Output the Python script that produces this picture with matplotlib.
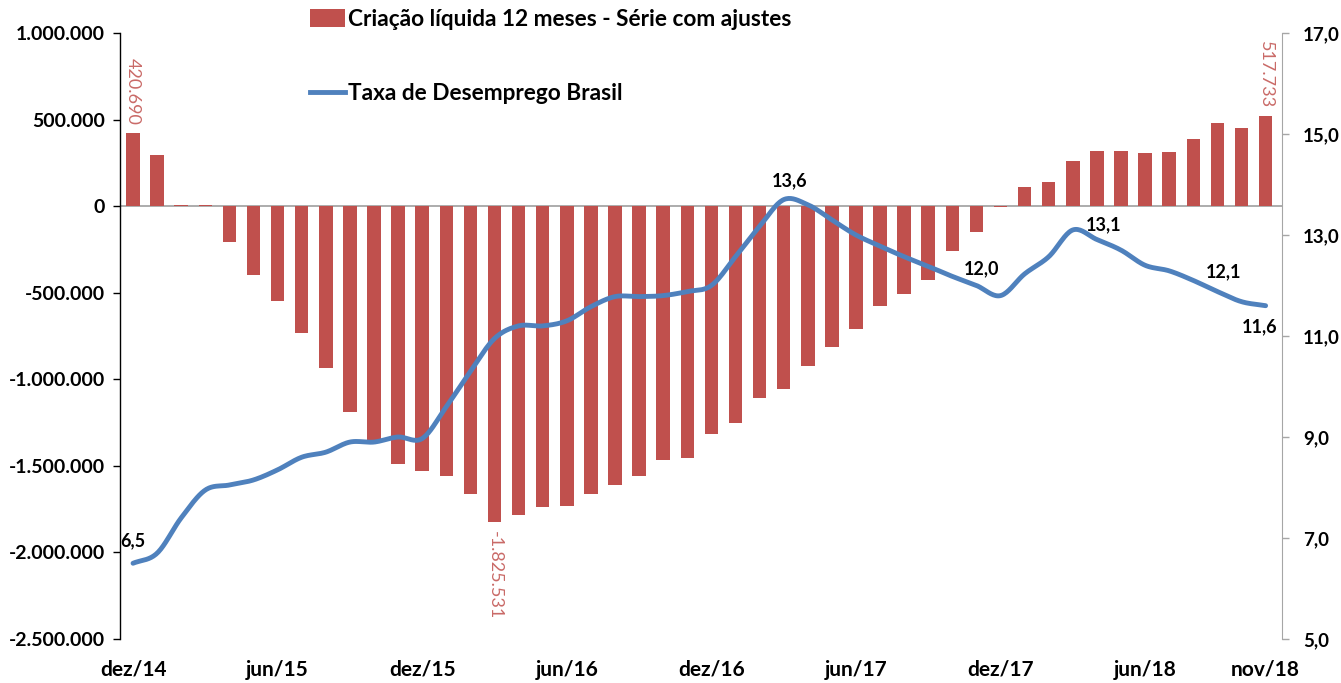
import numpy as np
import matplotlib
matplotlib.use("Agg")
import matplotlib.pyplot as plt
from matplotlib.patches import Patch
from matplotlib.lines import Line2D

plt.rcParams['font.family'] = ['Lato', 'DejaVu Sans']

# ---------------- data ----------------
months = ["dez/14", "jan/15", "fev/15", "mar/15", "abr/15", "mai/15", "jun/15", "jul/15",
          "ago/15", "set/15", "out/15", "nov/15", "dez/15", "jan/16", "fev/16", "mar/16",
          "abr/16", "mai/16", "jun/16", "jul/16", "ago/16", "set/16", "out/16", "nov/16",
          "dez/16", "jan/17", "fev/17", "mar/17", "abr/17", "mai/17", "jun/17", "jul/17",
          "ago/17", "set/17", "out/17", "nov/17", "dez/17", "jan/18", "fev/18", "mar/18",
          "abr/18", "mai/18", "jun/18", "jul/18", "ago/18", "set/18", "out/18", "nov/18"]

criacao_liquida = [420690, 295000, 5000, 5000, -205000, -400000, -545000, -730000,
                   -932000, -1187000, -1350000, -1492000, -1527000, -1560000, -1665000, -1825531,
                   -1782000, -1737000, -1732000, -1665000, -1612000, -1560000, -1467000, -1452000,
                   -1315000, -1255000, -1107000, -1055000, -922000, -812000, -712000, -577000,
                   -505000, -425000, -257000, -147000, -7000, 112000, 137000, 262000,
                   317000, 317000, 305000, 312000, 385000, 480000, 450000, 517733]

taxa_desemprego = [6.5, 6.7, 7.4, 7.95, 8.05, 8.15, 8.35, 8.6,
                   8.7, 8.9, 8.9, 9.0, 8.97, 9.6, 10.3, 10.95,
                   11.2, 11.2, 11.3, 11.58, 11.78, 11.78, 11.8, 11.88,
                   12.0, 12.57, 13.17, 13.7, 13.6, 13.3, 13.0, 12.78,
                   12.57, 12.38, 12.18, 12.0, 11.8, 12.23, 12.57, 13.1,
                   12.91, 12.7, 12.4, 12.29, 12.1, 11.88, 11.68, 11.6]

xtick_labels = ["dez/14", "jun/15", "dez/15", "jun/16", "dez/16", "jun/17", "dez/17", "jun/18", "nov/18"]
left_ticks = [1000000, 500000, 0, -500000, -1000000, -1500000, -2000000, -2500000]
right_ticks = [17.0, 15.0, 13.0, 11.0, 9.0, 7.0, 5.0]

bar_label_idx = [0, 15, 47]
line_label_idx = [0, 28, 35, 39, 44, 47]
line_label_offsets = [(0, 16), (-13, 17), (4, 12), (22, 4), (22, 6), (-4, -15)]  # points

label_series_bar = "Criação líquida 12 meses - Série com ajustes"
label_series_line = "Taxa de Desemprego Brasil"

BAR_C = "#C0504D"
LINE_C = "#4F81BD"

def fmt_thousands(v):
    s = f"{abs(int(round(v))):,}".replace(",", ".")
    return ("-" if v < 0 else "") + s

def fmt_dec(v):
    return f"{v:.1f}".replace(".", ",")

def catmull_rom(x, y, n=20):
    x = np.asarray(x, float); y = np.asarray(y, float)
    px = np.concatenate([[2*x[0]-x[1]], x, [2*x[-1]-x[-2]]])
    py = np.concatenate([[2*y[0]-y[1]], y, [2*y[-1]-y[-2]]])
    xs, ys = [], []
    t = np.linspace(0, 1, n, endpoint=False)
    for i in range(1, len(px)-2):
        for arr, out in ((px, xs), (py, ys)):
            p0, p1, p2, p3 = arr[i-1], arr[i], arr[i+1], arr[i+2]
            out.append(0.5*((2*p1) + (-p0+p2)*t + (2*p0-5*p1+4*p2-p3)*t**2 + (-p0+3*p1-3*p2+p3)*t**3))
    xs = np.concatenate(xs + [[x[-1]]]); ys = np.concatenate(ys + [[y[-1]]])
    return xs, ys

# ---------------- figure ----------------
fig = plt.figure(figsize=(13.41, 6.83), dpi=100)
ax = fig.add_axes([0.0895, 0.0644, 0.8665, 0.8873])
ax2 = ax.twinx()

x = np.arange(len(months))
ax.bar(x, criacao_liquida, width=0.56, color=BAR_C, zorder=2)
ax.axhline(0, color="#A6A6A6", lw=1.3, zorder=1)

ax.set_xlim(-0.54, 47.68)
ax.set_ylim(-2500000, 1000000)
ax.set_yticks(left_ticks)
ax.set_yticklabels([fmt_thousands(v) for v in left_ticks], fontsize=14, fontweight="bold")

xt = [months.index(m) for m in xtick_labels]
ax.set_xticks(xt)
ax.set_xticklabels(xtick_labels, fontsize=15, fontweight="bold")
ax.tick_params(axis="x", length=0, pad=15)
ax.tick_params(axis="y", length=5, width=1, color="black", pad=6)

for s in ["top", "right", "bottom"]:
    ax.spines[s].set_visible(False)
ax.spines["left"].set_color("black")
ax.spines["left"].set_linewidth(1)

# bar labels
for i in bar_label_idx:
    v = criacao_liquida[i]
    ax.annotate(fmt_thousands(v), (x[i], v), xytext=(0, 6 if v > 0 else -6),
                textcoords="offset points", rotation=270, ha="center",
                va="bottom" if v > 0 else "top", color=BAR_C, fontsize=13, alpha=0.85)

# line
sx, sy = catmull_rom(x, taxa_desemprego)
ax2.plot(sx, sy, color=LINE_C, lw=3.5, solid_capstyle="round", zorder=3)
ax2.set_ylim(5, 17)
ax2.set_yticks(right_ticks)
ax2.set_yticklabels([fmt_dec(v) for v in right_ticks], fontsize=13.5, fontweight="bold")
ax2.tick_params(axis="y", length=5, width=1, color="#A6A6A6", pad=10)
for s in ["top", "left", "bottom"]:
    ax2.spines[s].set_visible(False)
ax2.spines["right"].set_color("#A6A6A6")

for i, off in zip(line_label_idx, line_label_offsets):
    v = taxa_desemprego[i]
    ax2.annotate(fmt_dec(v), (x[i], v), xytext=off, textcoords="offset points",
                 ha="center", va="center", fontsize=13, fontweight="bold", color="black")

# legend
handles = [Patch(facecolor=BAR_C, edgecolor="none"),
           Line2D([0], [0], color=LINE_C, lw=3.5)]
leg = fig.legend(handles, [label_series_bar, label_series_line],
                 loc="upper left", bbox_to_anchor=(310/1341, 1 - 9/683),
                 frameon=False, prop={"weight": "bold", "size": 16.3},
                 handlelength=1.55, handleheight=0.8, handletextpad=0.14,
                 labelspacing=2.35, borderpad=0, borderaxespad=0)

fig.savefig("out.png", dpi=100, facecolor="white")
